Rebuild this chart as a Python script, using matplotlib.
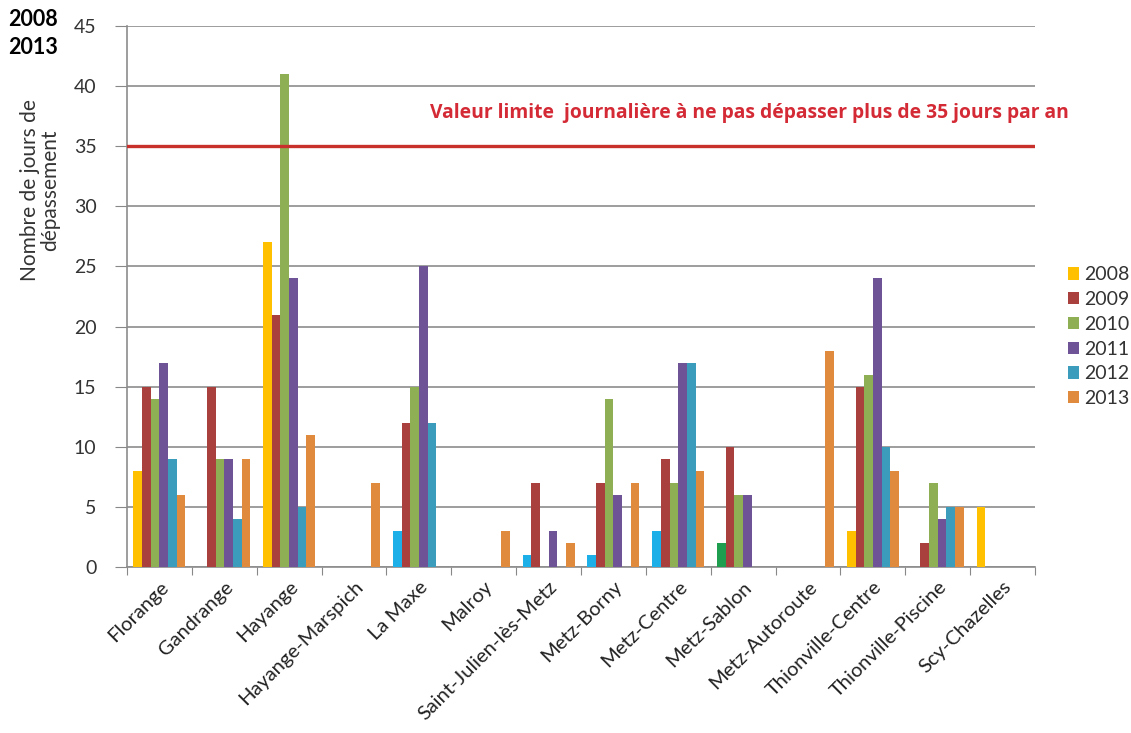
import matplotlib
matplotlib.use("Agg")
from matplotlib import pyplot as plt
import numpy as np

plt.rcParams['font.family'] = ['Lato', 'DejaVu Sans']

stations = ['Florange', 'Gandrange', 'Hayange', 'Hayange-Marspich', 'La Maxe',
            'Malroy', 'Saint-Julien-lès-Metz', 'Metz-Borny', 'Metz-Centre',
            'Metz-Sablon', 'Metz-Autoroute', 'Thionville-Centre',
            'Thionville-Piscine', 'Scy-Chazelles']
years = ['2008', '2009', '2010', '2011', '2012', '2013']

d2008 = [8, 0, 27, 0, 3, 0, 1, 1, 3, 2, 0, 3, 0, 5]
d2009 = [15, 15, 21, 0, 12, 0, 7, 7, 9, 10, 0, 15, 2, 0]
d2010 = [14, 9, 41, 0, 15, 0, 0, 14, 7, 6, 0, 16, 7, 0]
d2011 = [17, 9, 24, 0, 25, 0, 3, 6, 17, 6, 0, 24, 4, 0]
d2012 = [9, 4, 5, 0, 12, 0, 0, 0, 17, 0, 0, 10, 5, 0]
d2013 = [6, 9, 11, 7, 0, 3, 2, 7, 8, 0, 18, 8, 5, 0]
series = [d2008, d2009, d2010, d2011, d2012, d2013]

colors = ['#FFC000', '#A9403D', '#8FAF55', '#6E5496', '#3B9DBB', '#E08A3E']
# some 2008 bars are drawn in another colour in the original
odd_2008 = {'La Maxe': '#1DB0E8', 'Saint-Julien-lès-Metz': '#1DB0E8',
            'Metz-Borny': '#1DB0E8', 'Metz-Centre': '#1DB0E8',
            'Metz-Sablon': '#1F9E50'}

limit = 35
limit_text = 'Valeur limite  journalière à ne pas dépasser plus de 35 jours par an'

fig = plt.figure(figsize=(11.31, 7.33), dpi=100)
ax = fig.add_axes([127/1131, 1 - 567/733, (1035-127)/1131, (567-26)/733])

x = np.arange(len(stations))
w = 0.8 / len(years)
for j, vals in enumerate(series):
    cols = [colors[j]] * len(stations)
    if j == 0:
        for i, s in enumerate(stations):
            if s in odd_2008:
                cols[i] = odd_2008[s]
    ax.bar(x - 0.4 + w * (j + 0.5), vals, width=w, color=cols, label=years[j], zorder=3)

ax.axhline(limit, color='#C8302C', linewidth=2.4, zorder=4)
ax.text(4.17, 37.8, limit_text, color='#D42A35', fontsize=13.9, fontweight='bold',
        family=['Open Sans', 'DejaVu Sans'], va='center', ha='left', clip_on=False)

ax.set_xlim(-0.5, len(stations) - 0.5)
ax.set_ylim(0, 45)
ax.set_yticks(range(0, 46, 5))
ax.set_xticks(np.arange(-0.5, len(stations), 1.0))
ax.set_xticklabels([])
ax.set_xticks(x, minor=True)
ax.set_xticklabels(stations, minor=True, rotation=45, ha='right',
                   rotation_mode='anchor', fontsize=14.5, color='#222222')
ax.tick_params(axis='x', which='minor', length=0, pad=8)
ax.tick_params(axis='x', which='major', length=6, color='#888888', direction='out')
ax.tick_params(axis='y', length=9, color='#888888', labelsize=14, pad=13, labelcolor='#333333')
ax.grid(axis='y', color='#8C8C8C', linewidth=1.2, zorder=0)
for side in ['top', 'right']:
    ax.spines[side].set_visible(False)
for side in ['left', 'bottom']:
    ax.spines[side].set_color('#8C8C8C')
    ax.spines[side].set_linewidth(1.2)

ax.set_ylabel('Nombre de jours de\ndépassement', fontsize=15, color='#333333',
              linespacing=1.0)
ax.yaxis.set_label_coords(-0.074, 0.697)

fig.text(8/1131, 1 - 20/733, '2008', fontsize=15.5, fontweight='bold', va='center')
fig.text(8/1131, 1 - 47/733, '2013', fontsize=15.5, fontweight='bold', va='center')

leg = ax.legend(loc='upper left', bbox_to_anchor=(1.036, 0.556), frameon=False,
                fontsize=14, handlelength=0.6, handleheight=0.6, handletextpad=0.25,
                labelspacing=0.4, borderaxespad=0, borderpad=0)
for t in leg.get_texts():
    t.set_color('#333333')

fig.savefig('out.png', dpi=100)
